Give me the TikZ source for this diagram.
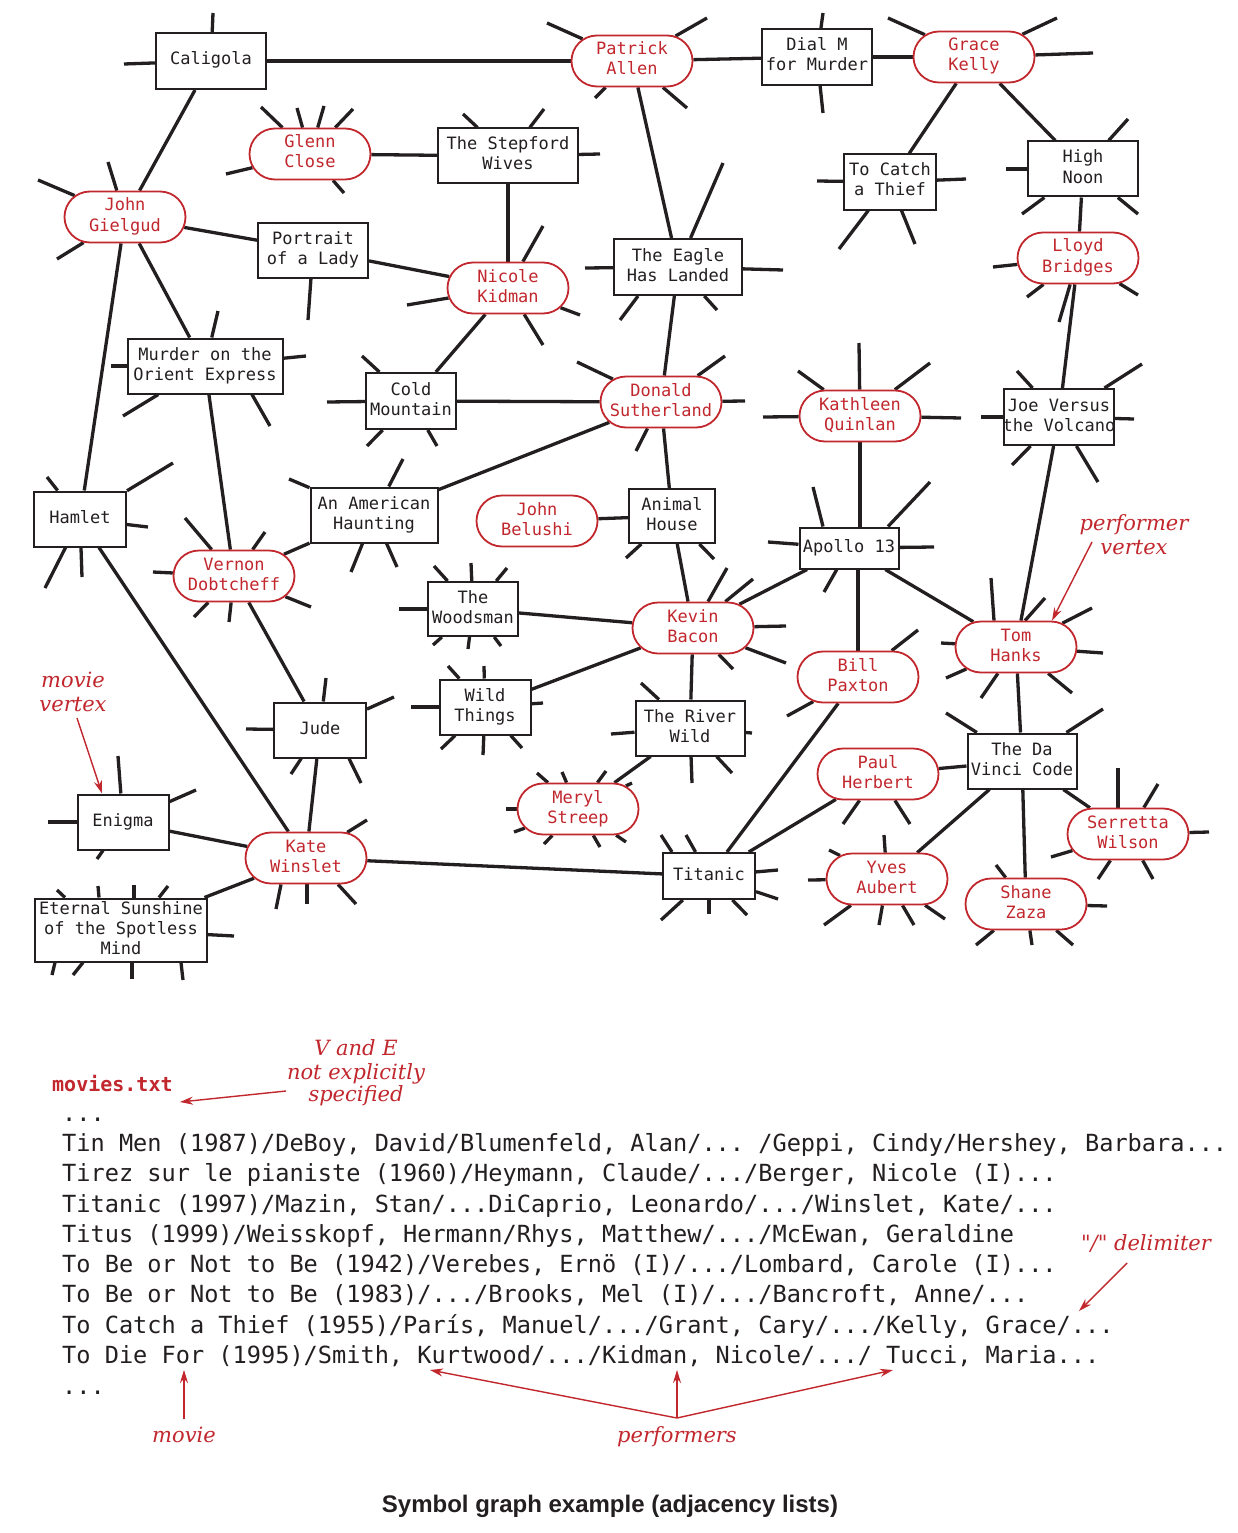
\documentclass[tikz,border=0pt]{standalone}
\usepackage{fontspec}
\setmonofont{DejaVu Sans Mono}
\setsansfont{Liberation Sans}
\newfontfamily\annfont{DejaVu Serif}
\usetikzlibrary{shapes.misc,arrows.meta,backgrounds}
\definecolor{ared}{RGB}{193,39,45}
\definecolor{ink}{RGB}{35,31,32}
\newcommand\nt[1]{\makebox[0pt]{\begin{tabular}{@{}c@{}}#1\end{tabular}}}
\newcommand\sun[2]{\foreach \pp in {#2} {\draw[stub] (#1) -- \pp;}}
\begin{document}
\begin{tikzpicture}[x=1pt,y=-1pt,
  movie/.style={draw=ink, line width=2pt, fill=white, inner sep=0pt, text=ink,
     font=\fontsize{17}{20}\ttfamily},
  perf/.style={rounded rectangle, draw=ared, line width=1.8pt, fill=white, inner sep=0pt,
     minimum width=121pt, minimum height=51pt, text=ared, font=\fontsize{17}{20}\ttfamily},
  link/.style={draw=ink, line width=3.3pt},
  stub/.style={draw=ink, line width=3.3pt},
  note/.style={text=ared, font=\fontsize{21}{24}\annfont\itshape, inner sep=0pt, anchor=base},
  annarrow/.style={-{Stealth[length=13pt,width=8pt]}, draw=ared, line width=1.4pt},
  listline/.style={anchor=base west, inner sep=0pt, font=\fontsize{23.6}{30}\ttfamily, text=ink}
]
\useasboundingbox (0,0) rectangle (1238,1533);

% ---------- movie vertices ----------
\node[movie, minimum width=110pt, minimum height=56pt] (cal) at (211,61) {\nt{Caligola}};
\node[movie, minimum width=110pt, minimum height=56pt] (dial) at (817,57) {\nt{Dial M\\for Murder}};
\node[movie, minimum width=140pt, minimum height=55pt] (step) at (508,156) {\nt{The Stepford\\Wives}};
\node[movie, minimum width=110pt, minimum height=55pt] (port) at (313,250) {\nt{Portrait\\of a Lady}};
\node[movie, minimum width=92pt, minimum height=55pt] (catch) at (890,182) {\nt{To Catch\\a Thief}};
\node[movie, minimum width=110pt, minimum height=55pt] (high) at (1083,169) {\nt{High\\Noon}};
\node[movie, minimum width=128pt, minimum height=56pt] (eagle) at (678,267) {\nt{The Eagle\\Has Landed}};
\node[movie, minimum width=155pt, minimum height=55pt] (murder) at (205,366) {\nt{Murder on the\\Orient Express}};
\node[movie, minimum width=90pt, minimum height=56pt] (cold) at (411,401) {\nt{Cold\\Mountain}};
\node[movie, minimum width=110pt, minimum height=56pt] (joe) at (1059,417) {\nt{Joe Versus\\the Volcano}};
\node[movie, minimum width=92pt, minimum height=55pt] (hamlet) at (80,519) {\nt{Hamlet}};
\node[movie, minimum width=127pt, minimum height=55pt] (haunt) at (374,515) {\nt{An American\\Haunting}};
\node[movie, minimum width=86pt, minimum height=54pt] (animal) at (672,516) {\nt{Animal\\House}};
\node[movie, minimum width=99pt, minimum height=41pt] (apollo) at (849,548) {\nt{Apollo 13}};
\node[movie, minimum width=90pt, minimum height=54pt] (wood) at (473,609) {\nt{The\\Woodsman}};
\node[movie, minimum width=91pt, minimum height=55pt] (wild) at (485,707) {\nt{Wild\\Things}};
\node[movie, minimum width=92pt, minimum height=55pt] (jude) at (320,730) {\nt{Jude}};
\node[movie, minimum width=109pt, minimum height=55pt] (river) at (690,728) {\nt{The River\\Wild}};
\node[movie, minimum width=109pt, minimum height=55pt] (davinci) at (1022,761) {\nt{The Da\\Vinci Code}};
\node[movie, minimum width=91pt, minimum height=55pt] (enigma) at (123,822) {\nt{Enigma}};
\node[movie, minimum width=92pt, minimum height=46pt] (titanic) at (709,876) {\nt{Titanic}};
\node[movie, minimum width=172pt, minimum height=63pt] (eternal) at (121,930) {\nt{Eternal Sunshine\\of the Spotless\\Mind}};

% ---------- performer vertices ----------
\node[perf] (pa) at (632,61) {\nt{Patrick\\Allen}};
\node[perf] (gk) at (974,57) {\nt{Grace\\Kelly}};
\node[perf] (gc) at (310,154) {\nt{Glenn\\Close}};
\node[perf] (jg) at (125,217) {\nt{John\\Gielgud}};
\node[perf] (lb) at (1078,258) {\nt{Lloyd\\Bridges}};
\node[perf] (nk) at (508,288) {\nt{Nicole\\Kidman}};
\node[perf] (ds) at (661,402) {\nt{Donald\\Sutherland}};
\node[perf] (kq) at (860,416) {\nt{Kathleen\\Quinlan}};
\node[perf] (jb) at (537,521) {\nt{John\\Belushi}};
\node[perf] (vd) at (234,576) {\nt{Vernon\\Dobtcheff}};
\node[perf] (kb) at (693,628) {\nt{Kevin\\Bacon}};
\node[perf] (th) at (1016,647) {\nt{Tom\\Hanks}};
\node[perf] (bp) at (858,677) {\nt{Bill\\Paxton}};
\node[perf] (ph) at (878,774) {\nt{Paul\\Herbert}};
\node[perf] (ms) at (578,809) {\nt{Meryl\\Streep}};
\node[perf] (sw) at (1128,834) {\nt{Serretta\\Wilson}};
\node[perf] (kw) at (306,858) {\nt{Kate\\Winslet}};
\node[perf] (ya) at (887,879) {\nt{Yves\\Aubert}};
\node[perf] (sz) at (1026,904) {\nt{Shane\\Zaza}};

% ---------- annotations ----------
\node[note] (pv1) at (1134,530) {performer};
\node[note] (pv2) at (1134,554) {vertex};
\node[note] (mv1) at (73,687) {movie};
\node[note] (mv2) at (73,711) {vertex};
\coordinate (pvtail) at (1092,542);
\coordinate (mvtail) at (77,718);
\draw[annarrow] (pvtail) -- ([xshift=36pt]th.north);
\draw[annarrow] (mvtail) -- ([xshift=-21pt]enigma.north);

\node[anchor=base west, inner sep=0pt, text=ared, font=\fontsize{20}{24}\ttfamily\bfseries] (mtxt) at (52,1091) {movies.txt};
\node[note] (ve1) at (356,1055) {V and E};
\node[note] (ve2) at (356,1079) {not explicitly};
\node[note] (ve3) at (356,1101) {specified};
\coordinate (vetail) at (286,1091);
\coordinate (vetip) at (180,1102);
\draw[annarrow] (vetail) -- (vetip);

\node[listline] (l0) at (62,1121) {...};
\node[listline] (l1) at (62,1151) {Tin Men (1987)/DeBoy, David/Blumenfeld, Alan/... /Geppi, Cindy/Hershey, Barbara...};
\node[listline] (l2) at (62,1181) {Tirez sur le pianiste (1960)/Heymann, Claude/.../Berger, Nicole (I)...};
\node[listline] (l3) at (62,1212) {Titanic (1997)/Mazin, Stan/...DiCaprio, Leonardo/.../Winslet, Kate/...};
\node[listline] (l4) at (62,1242) {Titus (1999)/Weisskopf, Hermann/Rhys, Matthew/.../McEwan, Geraldine};
\node[listline] (l5) at (62,1272) {To Be or Not to Be (1942)/Verebes, Ernö (I)/.../Lombard, Carole (I)...};
\node[listline] (l6) at (62,1302) {To Be or Not to Be (1983)/.../Brooks, Mel (I)/.../Bancroft, Anne/...};
\node[listline] (l7) at (62,1333) {To Catch a Thief (1955)/París, Manuel/.../Grant, Cary/.../Kelly, Grace/...};
\node[listline] (l8) at (62,1363) {To Die For (1995)/Smith, Kurtwood/.../Kidman, Nicole/.../ Tucci, Maria...};
\node[listline] (l9) at (62,1394) {...};

\node[note] (dl) at (1146,1250) {"/" delimiter};
\coordinate (dltail) at (1127,1263);
\coordinate (dltip) at (1079,1311);
\draw[annarrow] (dltail) -- (dltip);

\node[note] (mvlab) at (184,1442) {movie};
\coordinate (mvbot) at (184,1419);
\coordinate (mvtop) at (184,1370);
\draw[annarrow] (mvbot) -- (mvtop);

\node[note] (pflab) at (677,1442) {performers};
\coordinate (pfapex) at (677,1418);
\coordinate (pfa) at (430,1370);
\coordinate (pfb) at (677,1370);
\coordinate (pfc) at (893,1370);
\draw[annarrow] (pfapex) -- (pfa);
\draw[annarrow] (pfapex) -- (pfb);
\draw[annarrow] (pfapex) -- (pfc);

\node[anchor=base, inner sep=0pt, text=ink, font=\fontsize{24}{28}\sffamily\bfseries] (caption) at (610,1512) {Symbol graph example (adjacency lists)};

% ---------- edges and stubs ----------
\begin{pgfonlayer}{background}
\fill[white] (0,0) rectangle (1238,1533);
\draw[link] (cal) -- (pa);
\draw[link] (cal) -- (jg);
\draw[link] (pa) -- (dial);
\draw[link] (pa) -- (eagle);
\draw[link] (dial) -- (gk);
\draw[link] (gk) -- (catch);
\draw[link] (gk) -- (high);
\draw[link] (high) -- (lb);
\draw[link] (lb) -- (joe);
\draw[link] (gc) -- (step);
\draw[link] (step) -- (nk);
\draw[link] (jg) -- (port);
\draw[link] (port) -- (nk);
\draw[link] (jg) -- (murder);
\draw[link] (jg) -- (hamlet);
\draw[link] (nk) -- (cold);
\draw[link] (eagle) -- (ds);
\draw[link] (cold) -- (ds);
\draw[link] (ds) -- (haunt);
\draw[link] (ds) -- (animal);
\draw[link] (murder) -- (vd);
\draw[link] (vd) -- (haunt);
\draw[link] (vd) -- (jude);
\draw[link] (kq) -- (kq |- apollo.north);
\draw[link] (joe) -- (th);
\draw[link] (jb) -- (animal);
\draw[link] (animal) -- (kb);
\draw[link] (apollo) -- (kb);
\draw[link] (apollo) -- (th);
\draw[link] (bp) -- (bp |- apollo.south);
\draw[link] (wood) -- (kb);
\draw[link] (wild) -- (kb);
\draw[link] (kb) -- (river);
\draw[link] (river) -- (ms);
\draw[link] (th) -- (davinci);
\draw[link] (bp) -- (titanic);
\draw[link] (ph) -- (davinci);
\draw[link] (ph) -- (titanic);
\draw[link] (davinci) -- (ya);
\draw[link] (davinci) -- (sz);
\draw[link] (davinci) -- (sw);
\draw[link] (hamlet) -- (kw);
\draw[link] (jude) -- (kw);
\draw[link] (enigma) -- (kw);
\draw[link] (kw) -- (eternal);
\draw[link] (kw) -- (titanic);

% stubs of movies
\sun{cal}{(213,13),(124,64)}
\sun{dial}{(823,13),(823,113)}
\sun{step}{(463,114),(544,109),(600,154)}
\sun{port}{(308,320)}
\sun{catch}{(817,181),(966,179),(839,249),(915,244)}
\sun{high}{(1006,169),(1128,119),(1022,214),(1138,214)}
\sun{eagle}{(723,163),(585,268),(783,270),(717,310)}
\draw[stub] ([xshift=-40pt]eagle.south) -- (620,320);
\sun{murder}{(218,311),(111,366),(306,356),(123,416)}
\draw[stub] ([xshift=47pt]murder.south) -- (270,426);
\sun{cold}{(362,356),(327,402),(367,446),(437,446)}
\sun{joe}{(1017,371),(1142,364),(981,417),(1134,419),(1012,465),(1098,482)}
\sun{hamlet}{(47,477),(173,463),(148,527),(45,588),(82,577)}
\sun{haunt}{(289,479),(403,459),(351,572),(397,567)}
\sun{animal}{(626,558),(714,559)}
\sun{apollo}{(934,547),(824,592),(768,542)}
\draw[stub] ([xshift=-26pt]apollo.north) -- (813,487);
\draw[stub] ([xshift=39pt]apollo.north) -- (930,482);
\sun{wood}{(434,566),(471,563),(507,568),(399,609),(433,645),(468,649),(501,646)}
\sun{wild}{(448,666),(484,666),(411,707),(543,703),(441,749),(483,755),(522,748)}
\sun{jude}{(326,678),(394,697),(246,729),(291,774)}
\draw[stub] ([xshift=29pt]jude.south) -- (361,783);
\sun{river}{(641,683),(611,734),(752,733),(692,783),(732,773)}
\sun{davinci}{(946,713),(1103,709)}
\sun{enigma}{(118,756),(196,790),(48,822),(97,859)}
\sun{titanic}{(686,835),(778,870),(778,899),(661,920),(709,914),(747,915)}
\draw[stub] ([xshift=-37pt]titanic.north) -- (661,835);
\sun{eternal}{(234,936)}
\draw[stub] ([xshift=-56pt]eternal.north) -- (57,890);
\draw[stub] ([xshift=-22pt]eternal.north) -- (98,886);
\draw[stub] ([xshift=13pt]eternal.north) -- (134,885);
\draw[stub] ([xshift=38pt]eternal.north) -- (168,886);
\draw[stub] ([xshift=-66pt]eternal.south) -- (52,975);
\draw[stub] ([xshift=-38pt]eternal.south) -- (73,975);
\draw[stub] ([xshift=11pt]eternal.south) -- (132,979);
\draw[stub] ([xshift=60pt]eternal.south) -- (183,980);

% stubs of performers
\sun{pa}{(547,23),(707,18),(595,98),(687,108)}
\sun{gk}{(888,18),(1057,18),(1093,53)}
\sun{gc}{(261,107),(297,108),(324,106),(353,109),(226,174),(344,193)}
\sun{jg}{(38,180),(108,162),(57,259)}
\sun{lb}{(993,267),(1027,297),(1138,295),(1059,322)}
\sun{nk}{(543,226),(407,305),(580,315),(543,345)}
\sun{ds}{(577,362),(725,356),(745,401),(636,451)}
\sun{kq}{(859,343),(930,363),(961,418),(798,371),(763,417)}
\sun{vd}{(185,518),(265,532),(153,572),(311,607),(194,617),(229,622)}
\sun{kb}{(727,568),(753,579),(786,626),(786,663),(733,669)}
\sun{th}{(1092,608),(941,643),(1103,653),(946,678),(981,698),(1072,693)}
\draw[stub] ([xshift=-22pt]th.north) -- (991,578);
\draw[stub] ([xshift=9pt]th.north) -- (1045,598);
\sun{bp}{(918,630),(787,716)}
\sun{ph}{(843,824),(910,824)}
\sun{ms}{(537,773),(562,772),(606,771),(632,783),(506,809),(514,832),(544,844),(600,847),(626,842)}
\sun{sw}{(1158,784),(1209,832),(1051,857),(1098,879),(1153,879)}
\draw[stub] ([xshift=-10pt]sw.north) -- (1118,768);
\sun{kw}{(367,820)}
\draw[stub] ([xshift=-25pt]kw.south) -- (276,909);
\draw[stub] ([xshift=1pt]kw.south) -- (307,904);
\draw[stub] ([xshift=32pt]kw.south) -- (356,904);
\sun{ya}{(884,835),(829,850),(808,880),(824,925),(879,925),(914,925),(945,919)}
\sun{sz}{(996,865),(1107,906),(976,945),(1032,945),(1073,945)}
\end{pgfonlayer}
\end{tikzpicture}
\end{document}
